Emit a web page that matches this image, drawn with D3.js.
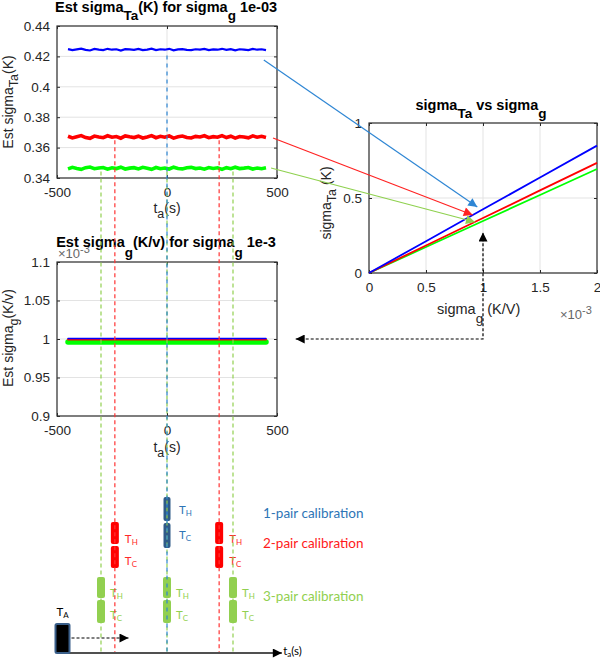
<!DOCTYPE html>
<html><head><meta charset="utf-8">
<script src="https://cdn.jsdelivr.net/npm/d3@7"></script>
<style>
body{margin:0;background:#fff;}
svg{display:block;}
</style></head>
<body>
<svg id="c" width="600" height="658"></svg>
<script>
// ---------- DATA ----------
const tA = [-450,-430,-410,-390,-370,-350,-330,-310,-290,-270,-250,-230,-210,-190,-170,-150,-130,-110,-90,-70,-50,-30,-10,10,30,50,70,90,110,130,150,170,190,210,230,250,270,290,310,330,350,370,390,410,430,450];
const estTaBlue = [0.4248,0.4241,0.4246,0.4251,0.4243,0.4239,0.4249,0.4245,0.4242,0.4250,0.4244,0.4247,0.4238,0.4248,0.4246,0.4243,0.4249,0.4241,0.4245,0.4251,0.4242,0.4247,0.4244,0.4250,0.4240,0.4246,0.4248,0.4243,0.4241,0.4247,0.4245,0.4249,0.4242,0.4246,0.4244,0.4250,0.4243,0.4248,0.4240,0.4247,0.4245,0.4242,0.4249,0.4244,0.4247,0.4241];
const estTaRed = [0.3675,0.3664,0.3672,0.3679,0.3666,0.3661,0.3676,0.3670,0.3665,0.3678,0.3668,0.3673,0.3662,0.3677,0.3671,0.3666,0.3675,0.3663,0.3670,0.3679,0.3665,0.3674,0.3668,0.3677,0.3662,0.3671,0.3676,0.3666,0.3663,0.3674,0.3670,0.3678,0.3665,0.3672,0.3668,0.3679,0.3666,0.3675,0.3662,0.3673,0.3670,0.3664,0.3677,0.3668,0.3674,0.3667];
const estTaGreen = [0.3460,0.3470,0.3463,0.3457,0.3468,0.3472,0.3461,0.3466,0.3469,0.3458,0.3467,0.3462,0.3471,0.3459,0.3465,0.3468,0.3460,0.3470,0.3464,0.3457,0.3469,0.3461,0.3466,0.3459,0.3471,0.3463,0.3460,0.3468,0.3470,0.3462,0.3466,0.3458,0.3469,0.3463,0.3467,0.3457,0.3468,0.3461,0.3471,0.3462,0.3465,0.3469,0.3459,0.3466,0.3461,0.3467];

const tG = [-450, 450];
const estGBlue = [1.0005, 1.0005];   // x 1e-3
const estGRed = [0.9995, 0.9995];
const estGGreen = [0.9960, 0.9960];

const sigmaG = [0, 0.5, 1, 1.5, 2];   // x 1e-3
const sigmaTaBlue = [0, 0.212, 0.4245, 0.637, 0.849];
const sigmaTaRed = [0, 0.1835, 0.367, 0.5505, 0.734];
const sigmaTaGreen = [0, 0.173, 0.3465, 0.52, 0.693];

const timeTicks = [-500, 0, 500];
const topYTicks = [0.34, 0.36, 0.38, 0.40, 0.42, 0.44];
const midYTicks = [0.9, 0.95, 1, 1.05, 1.1];
const rightXTicks = [0, 0.5, 1, 1.5, 2];
const rightYTicks = [0, 0.5, 1];

const cal1Pair = [0];
const cal2Pair = [-237, 237];
const cal3Pair = [-300, 0, 300];

// ---------- SETUP ----------
const svg = d3.select("#c");
const FONT = "'Liberation Sans', Arial, sans-serif";
const DIAG = "Lato, 'Open Sans', sans-serif";
const TXT = "#262626";
const BLUE = "#0000ff", RED = "#ff0000", GREEN = "#00ff00";
const C1 = "#2e75b6", C3 = "#92d050", BLOCK1 = "#2f5b88";
const fmt = d => String(d);

const topX = d3.scaleLinear([-500, 500], [57, 277]);
const topY = d3.scaleLinear([0.34, 0.44], [178, 26]);
const midX = topX;
const midY = d3.scaleLinear([0.9, 1.1], [416, 262]);
const rX = d3.scaleLinear([0, 2], [369, 597]);
const rY = d3.scaleLinear([0, 1], [273, 123]);

const defs = svg.append("defs");
function marker(id, color, w, h) {
  defs.append("marker").attr("id", id).attr("viewBox", "0 0 10 10")
    .attr("refX", 10).attr("refY", 5).attr("markerUnits", "userSpaceOnUse")
    .attr("markerWidth", w).attr("markerHeight", h).attr("orient", "auto-start-reverse")
    .append("path").attr("d", "M0,0 L10,5 L0,10 z").attr("fill", color);
}
marker("mBlue", "#2e86d4", 11, 9);
marker("mRed", "#ff2222", 11, 9);
marker("mGreen", "#8fd14f", 11, 9);
marker("mBlack", "#000", 10, 9);

function rich(g, parts, x, y, opts) {
  const t = g.append("text").attr("x", x).attr("y", y)
    .attr("font-family", opts.font || FONT).attr("font-size", opts.size)
    .attr("font-weight", opts.weight || "normal").attr("fill", opts.color || TXT)
    .attr("text-anchor", opts.anchor || "start");
  if (opts.transform) t.attr("transform", opts.transform);
  let prev = 0;
  parts.forEach(p => {
    const s = t.append("tspan").text(p[0]).attr("dy", p[1] - prev);
    if (p[2]) s.attr("font-size", p[2]);
    prev = p[1];
  });
  return t;
}

function axes(x, y, xTicks, yTicks) {
  const g = svg.append("g");
  const [x0, x1] = x.range(), [y0, y1] = y.range();
  g.selectAll(".gx").data(xTicks).join("line")
    .attr("x1", d => x(d)).attr("x2", d => x(d)).attr("y1", y0).attr("y2", y1)
    .attr("stroke", "#e3e3e3").attr("stroke-width", 1);
  g.selectAll(".gy").data(yTicks).join("line")
    .attr("x1", x0).attr("x2", x1).attr("y1", d => y(d)).attr("y2", d => y(d))
    .attr("stroke", "#e3e3e3").attr("stroke-width", 1);
  const styleAx = sel => {
    sel.select(".domain").remove();
    sel.selectAll(".tick line").attr("stroke", TXT);
    sel.selectAll(".tick text").attr("fill", TXT).attr("font-family", FONT).attr("font-size", 13.5);
  };
  g.append("g").attr("transform", `translate(0,${y0})`)
    .call(d3.axisBottom(x).tickValues(xTicks).tickSizeInner(-3).tickSizeOuter(0).tickPadding(9).tickFormat(fmt))
    .call(styleAx);
  g.append("g").attr("transform", `translate(0,${y1})`)
    .call(d3.axisTop(x).tickValues(xTicks).tickSizeInner(-3).tickSizeOuter(0).tickFormat(""))
    .call(styleAx);
  g.append("g").attr("transform", `translate(${x0},0)`)
    .call(d3.axisLeft(y).tickValues(yTicks).tickSizeInner(-3).tickSizeOuter(0).tickPadding(7).tickFormat(fmt))
    .call(styleAx);
  g.append("g").attr("transform", `translate(${x1},0)`)
    .call(d3.axisRight(y).tickValues(yTicks).tickSizeInner(-3).tickSizeOuter(0).tickFormat(""))
    .call(styleAx);
  g.append("rect").attr("x", x0).attr("y", y1).attr("width", x1 - x0).attr("height", y0 - y1)
    .attr("fill", "none").attr("stroke", "#333").attr("stroke-width", 1.2);
  return g;
}

// ---------- TOP CHART ----------
axes(topX, topY, timeTicks, topYTicks);
const lineTop = d3.line().x(d => topX(d[0])).y(d => topY(d[1]));
[[estTaGreen, GREEN, 3.6], [estTaRed, RED, 3.6], [estTaBlue, BLUE, 2.2]].forEach(([vals, col, w]) => {
  svg.append("path").datum(vals.map((v, i) => [tA[i], v])).attr("d", lineTop)
    .attr("fill", "none").attr("stroke", col).attr("stroke-width", w);
});
rich(svg, [["Est sigma", 0], ["Ta", 8, 13.5], ["(K) for sigma", 0], ["g", 8, 13.5], [" 1e-03", 0]], 166, 12,
  { size: 14.5, weight: "bold", color: "#000", anchor: "middle" });
rich(svg, [["Est sigma", 0], ["Ta", 5, 12.5], ["(K)", 0]], 0, 0,
  { size: 14, anchor: "middle", transform: "translate(13,102) rotate(-90)" });
rich(svg, [["t", 0], ["a", 5, 12.5], ["(s)", 0]], 167, 213, { size: 14, anchor: "middle" });

// ---------- MIDDLE CHART ----------
axes(midX, midY, timeTicks, midYTicks);
const lineMid = d3.line().x(d => midX(d[0])).y(d => midY(d[1]));
[[estGGreen, GREEN, 5.5], [estGRed, RED, 2], [estGBlue, BLUE, 1.5]].forEach(([vals, col, w]) => {
  svg.append("path").datum(vals.map((v, i) => [tG[i], v])).attr("d", lineMid)
    .attr("fill", "none").attr("stroke", col).attr("stroke-width", w).attr("stroke-linecap", "round");
});
rich(svg, [["\u00d710", 0], ["-3", -5, 11]], 58, 258, { size: 13, color: "#666" });
rich(svg, [["Est sigma", 0], ["g", 10, 13.5], ["(K/v) for sigma", 0], ["g", 10, 13.5], [" 1e-3", 0]], 166, 247,
  { size: 14.5, weight: "bold", color: "#000", anchor: "middle" });
rich(svg, [["Est sigma", 0], ["g", 5, 12.5], ["(K/v)", 0]], 0, 0,
  { size: 14, anchor: "middle", transform: "translate(13,338) rotate(-90)" });
rich(svg, [["t", 0], ["a", 5, 12.5], ["(s)", 0]], 167, 452, { size: 14, anchor: "middle" });

// ---------- RIGHT CHART ----------
axes(rX, rY, rightXTicks, rightYTicks);
const lineR = d3.line().x((d, i) => rX(sigmaG[i])).y(d => rY(d));
[[sigmaTaGreen, GREEN], [sigmaTaRed, RED], [sigmaTaBlue, BLUE]].forEach(([vals, col]) => {
  svg.append("path").datum(vals).attr("d", lineR).attr("fill", "none").attr("stroke", col).attr("stroke-width", 1.8);
});
rich(svg, [["sigma", 0], ["Ta", 8, 13.5], [" vs sigma", 0], ["g", 8, 13.5]], 481, 110,
  { size: 14.5, weight: "bold", color: "#000", anchor: "middle" });
rich(svg, [["sigma", 0], ["Ta", 5, 12.5], [" (K)", 0]], 0, 0,
  { size: 14, anchor: "middle", transform: "translate(331,203) rotate(-90)" });
rich(svg, [["sigma", 0], ["g", 9, 13.5], [" (K/V)", 0]], 437, 314, { size: 14.5 });
rich(svg, [["\u00d710", 0], ["-3", -5, 11]], 560, 319, { size: 13, color: "#666" });

// ---------- CALIBRATION DIAGRAM ----------
const axisY = 653;
function blocks(times, color, yTop, yMid, yBot, w, lblColor, lx, thY, tcY) {
  times.forEach(t => {
    const cx = topX(t);
    svg.append("rect").attr("x", cx - w / 2).attr("y", yTop).attr("width", w).attr("height", yMid - yTop - 1)
      .attr("rx", 2).attr("fill", color);
    svg.append("rect").attr("x", cx - w / 2).attr("y", yMid + 1).attr("width", w).attr("height", yBot - yMid - 1)
      .attr("rx", 2).attr("fill", color);
    rich(svg, [["T", 0], ["H", 2, 8]], cx + lx, thY, { size: 11.5, font: DIAG, color: lblColor });
    rich(svg, [["T", 0], ["C", 2, 8]], cx + lx, tcY, { size: 11.5, font: DIAG, color: lblColor });
  });
}
blocks(cal1Pair, BLOCK1, 497, 522, 548, 7, C1, 12, 514, 539);
blocks(cal2Pair, "#ff0000", 522, 545, 568, 8, "#ff2a2a", 10, 543, 565);
blocks(cal3Pair, C3, 577, 599, 623, 8, C3, 9, 597, 619);

function vdash(times, color, yStartVal, dash, offset) {
  svg.selectAll(null).data(times).join("line")
    .attr("x1", d => topX(d)).attr("x2", d => topX(d))
    .attr("y1", topY(yStartVal)).attr("y2", axisY)
    .attr("stroke", color).attr("stroke-width", 1.2)
    .attr("stroke-dasharray", dash).attr("stroke-dashoffset", offset);
}
vdash(cal3Pair, C3, 0.3443, "4,3", 0);
vdash(cal2Pair, "#ff3333", 0.3648, "4,3", 0);
vdash(cal1Pair, "#2e86d4", 0.4232, "4,4", 4);

svg.append("line").attr("x1", topX(-490)).attr("x2", topX(522)).attr("y1", axisY).attr("y2", axisY)
  .attr("stroke", "#505050").attr("stroke-width", 2).attr("marker-end", "url(#mBlack)");
rich(svg, [["t", 0], ["a", 2, 8], ["(s)", 0]], topX(528), axisY + 2, { size: 11.5, font: DIAG, color: "#000" });

svg.append("rect").attr("x", topX(-475) - 7).attr("y", 624).attr("width", 14).attr("height", 29)
  .attr("rx", 1.5).attr("fill", "#000").attr("stroke", "#3a5f8a").attr("stroke-width", 2);
rich(svg, [["T", 0], ["A", 2, 8]], topX(-475) - 6, 616, { size: 11.5, font: DIAG, color: "#000" });
svg.append("line").attr("x1", topX(-475) + 9).attr("x2", topX(-175)).attr("y1", 638).attr("y2", 638)
  .attr("stroke", "#000").attr("stroke-width", 1.2).attr("stroke-dasharray", "3,2")
  .attr("marker-end", "url(#mBlack)");

const legend = [["1-pair calibration", C1, 518], ["2-pair calibration", "#ff1a1a", 548], ["3-pair calibration", C3, 601]];
legend.forEach(([txt, col, y]) => {
  svg.append("text").attr("x", 263).attr("y", y).text(txt).attr("fill", col)
    .attr("font-family", DIAG).attr("font-size", 13.5);
});

// ---------- CONNECTING ARROWS ----------
const arrowFromT = [440, 482, 473];
const arrowFromV = [0.4176, 0.3663, 0.3466];
const arrowToG = [0.95, 0.91, 0.93];
const arrowToV = [0.44, 0.387, 0.34];
const arrowCol = ["#2e86d4", "#ff2222", "#8fd14f"];
const arrowMk = ["mBlue", "mRed", "mGreen"];
arrowFromT.forEach((t, i) => {
  svg.append("line").attr("x1", topX(t)).attr("y1", topY(arrowFromV[i]))
    .attr("x2", rX(arrowToG[i])).attr("y2", rY(arrowToV[i]))
    .attr("stroke", arrowCol[i]).attr("stroke-width", 1.2).attr("marker-end", `url(#${arrowMk[i]})`);
});

svg.append("path")
  .attr("d", `M${midX(585)},${midY(1)} L${rX(1)},${midY(1)} L${rX(1)},${rY(0.27)}`)
  .attr("fill", "none").attr("stroke", "#000").attr("stroke-width", 1.2).attr("stroke-dasharray", "3,2")
  .attr("marker-start", "url(#mBlack)").attr("marker-end", "url(#mBlack)");
</script>
</body></html>
